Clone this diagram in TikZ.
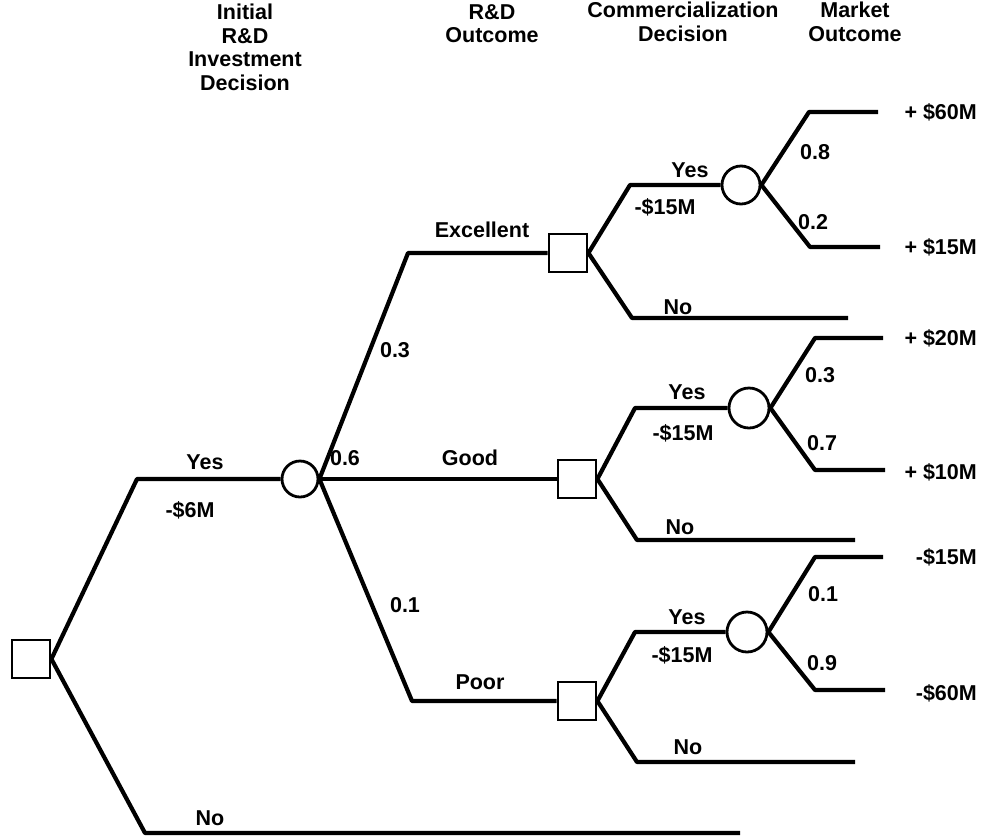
\documentclass[tikz,border=0pt]{standalone}
\usepackage{fontspec}
\setmainfont{Liberation Sans}
\usetikzlibrary{positioning}

\begin{document}
\begin{tikzpicture}[
    x=1pt, y=-1pt,
    dec/.style={draw, line width=2.8pt, minimum size=38pt, inner sep=0pt},
    chance/.style={draw, circle, line width=2.8pt, minimum size=38pt, inner sep=0pt},
    branch/.style={line width=4.2pt, line join=round},
    lbl/.style={font=\fontsize{21.5}{23.5}\selectfont\bfseries, inner sep=1pt},
    hdr/.style={lbl, align=center},
    payoff/.style={lbl, anchor=east}
]
\useasboundingbox (0,0) rectangle (981,836);

% --- column headers ---
\node[hdr, anchor=north] (h1) at (245,3) {Initial\\R\&D\\Investment\\Decision};
\node[hdr, anchor=north] (h2) at (492,3) {R\&D\\Outcome};
\node[hdr, anchor=north] (h3) at (683,1) {Commercialization\\Decision};
\node[hdr, anchor=north] (h4) at (855,1) {Market\\Outcome};

% --- decision and chance nodes ---
\node[dec] (root) at (31,659) {};
\node[chance, minimum size=36pt] (rd) at (300,479) {};
\node[dec] (exc) at (568,253) {};
\node[dec] (good) at (577,479) {};
\node[dec] (poor) at (577,701) {};
\node[chance] (mexc) at (741,185) {};
\node[chance, minimum size=40pt] (mgood) at (749,408) {};
\node[chance, minimum size=40pt] (mpoor) at (747,632) {};

% --- bend points and open ends ---
\coordinate (ry) at (137,479);
\coordinate (rn) at (145,833);
\coordinate (rnend) at (740,833);
\coordinate (bexc) at (408,253);
\coordinate (bpoor) at (412,701);

\coordinate (ey) at (630,185);
\coordinate (en) at (632,318);
\coordinate (enend) at (848,318);
\coordinate (eu) at (809,112);
\coordinate (euend) at (878,112);
\coordinate (ed) at (810,247);
\coordinate (edend) at (880,247);

\coordinate (gy) at (635,408);
\coordinate (gn) at (637,540);
\coordinate (gnend) at (855,540);
\coordinate (gu) at (815,338);
\coordinate (guend) at (883,338);
\coordinate (gd) at (815,470);
\coordinate (gdend) at (885,470);

\coordinate (py) at (635,632);
\coordinate (pn) at (637,762);
\coordinate (pnend) at (855,762);
\coordinate (pu) at (815,557);
\coordinate (puend) at (883,557);
\coordinate (pd) at (815,690);
\coordinate (pdend) at (885,690);

% --- branches ---
\draw[branch] (root.east) -- (ry) -- (rd.west);
\draw[branch] (root.east) -- (rn) -- (rnend);

\draw[branch] (rd.east) -- (bexc) -- (exc.west);
\draw[branch] (rd.east) -- (good.west);
\draw[branch] (rd.east) -- (bpoor) -- (poor.west);

\draw[branch] (exc.east) -- (ey) -- (mexc.west);
\draw[branch] (exc.east) -- (en) -- (enend);
\draw[branch] (mexc.east) -- (eu) -- (euend);
\draw[branch] (mexc.east) -- (ed) -- (edend);

\draw[branch] (good.east) -- (gy) -- (mgood.west);
\draw[branch] (good.east) -- (gn) -- (gnend);
\draw[branch] (mgood.east) -- (gu) -- (guend);
\draw[branch] (mgood.east) -- (gd) -- (gdend);

\draw[branch] (poor.east) -- (py) -- (mpoor.west);
\draw[branch] (poor.east) -- (pn) -- (pnend);
\draw[branch] (mpoor.east) -- (pu) -- (puend);
\draw[branch] (mpoor.east) -- (pd) -- (pdend);

% --- branch labels ---
\node[lbl] (lyes) at (205,462) {Yes};
\node[lbl] (lcost) at (190,510) {-\$6M};
\node[lbl] (lno) at (210,818) {No};

\node[lbl] (p3) at (395,350) {0.3};
\node[lbl] (p6) at (345,458) {0.6};
\node[lbl] (p1) at (405,605) {0.1};
\node[lbl] (lexc) at (482,230) {Excellent};
\node[lbl] (lgood) at (470,458) {Good};
\node[lbl] (lpoor) at (480,682) {Poor};

\node[lbl] at (690,170) {Yes};
\node[lbl] at (665,207) {-\$15M};
\node[lbl] at (678,307) {No};
\node[lbl] at (815,152) {0.8};
\node[lbl] at (813,222) {0.2};
\node[payoff] at (978,112) {+ \$60M};
\node[payoff] at (978,247) {+ \$15M};

\node[lbl] at (687,392) {Yes};
\node[lbl] at (683,433) {-\$15M};
\node[lbl] at (680,527) {No};
\node[lbl] at (820,375) {0.3};
\node[lbl] at (822,443) {0.7};
\node[payoff] at (978,338) {+ \$20M};
\node[payoff] at (978,472) {+ \$10M};

\node[lbl] at (687,617) {Yes};
\node[lbl] at (682,655) {-\$15M};
\node[lbl] at (688,747) {No};
\node[lbl] at (823,594) {0.1};
\node[lbl] at (822,663) {0.9};
\node[payoff] at (978,557) {-\$15M};
\node[payoff] at (978,693) {-\$60M};

\end{tikzpicture}
\end{document}
